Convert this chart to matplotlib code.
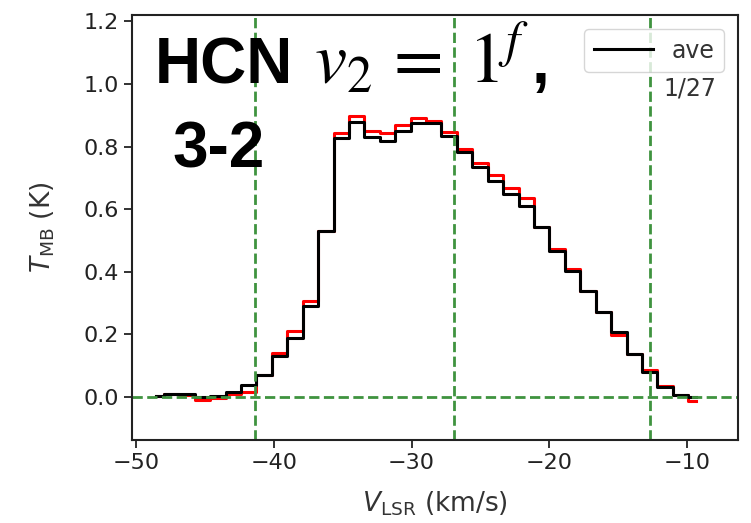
#---------import---------#
import numpy as np
import matplotlib
matplotlib.use('Agg')
import matplotlib.pyplot as plt
#------------------------#


#----------Data----------#
vlsr = [-48.55, -47.43, -46.31, -45.19, -44.07, -42.95, -41.83, -40.71, -39.59,
        -38.47, -37.35, -36.23, -35.11, -33.99, -32.87, -31.75, -30.63, -29.51,
        -28.39, -27.27, -26.15, -25.03, -23.91, -22.79, -21.67, -20.55, -19.43,
        -18.31, -17.19, -16.07, -14.95, -13.83, -12.71, -11.59, -10.47, -9.35]
t_ave = [0.005, 0.01, 0.01, 0.0, 0.005, 0.017, 0.04, 0.07, 0.13, 0.19, 0.29, 0.53,
         0.826, 0.879, 0.832, 0.818, 0.85, 0.874, 0.874, 0.834, 0.783, 0.734,
         0.689, 0.647, 0.61, 0.543, 0.467, 0.403, 0.34, 0.271, 0.207, 0.139,
         0.08, 0.033, 0.006, 0.0]
t_one = [0.005, 0.01, 0.008, -0.008, -0.002, 0.01, 0.015, 0.07, 0.14, 0.21, 0.308,
         0.53, 0.842, 0.898, 0.85, 0.842, 0.869, 0.892, 0.88, 0.845, 0.792, 0.747,
         0.708, 0.668, 0.636, 0.543, 0.473, 0.41, 0.34, 0.271, 0.197, 0.139,
         0.086, 0.036, 0.006, -0.012]
v_marks = [-41.4, -26.9, -12.7]
#------------------------#


#---------Figure---------#
fig = plt.figure(figsize=(7.51, 5.23), dpi=100)
ax = fig.add_axes([0.1758, 0.1587, 0.8069, 0.8126])

ax.step(vlsr, t_one, where='mid', color='red', lw=2.2)
ax.step(vlsr, t_ave, where='mid', color='black', lw=2.2, label='ave')

gcol = '#3f933f'
for v in v_marks:
    ax.axvline(v, color=gcol, ls='--', lw=2.0)
ax.axhline(0.0, color=gcol, ls='--', lw=2.0)

ax.set_xlim(-50.3, -6.3)
ax.set_ylim(-0.137, 1.22)
ax.set_xticks([-50, -40, -30, -20, -10])
ax.set_yticks(np.arange(0, 1.21, 0.2))
ax.tick_params(labelsize=16, length=6, width=1.3, colors='#222222')
for s in ax.spines.values():
    s.set_linewidth(1.5)
    s.set_color('#222222')

ax.set_xlabel(r'$V_{\rm LSR}$ (km/s)', fontsize=19, color='#333333', labelpad=12)
ax.set_ylabel(r'$T_{\rm MB}$ (K)', fontsize=19, color='#333333', labelpad=19)

leg = ax.legend(loc='upper right', fontsize=17, handlelength=2.5,
                borderaxespad=0.6)
for t in leg.get_texts():
    t.set_color('#333333')
ax.text(0.965, 0.826, '1/27', transform=ax.transAxes, ha='right', va='center',
        fontsize=17, color='#333333')

#------Line_label--------#
ax.text(0.038, 0.84, 'HCN', transform=ax.transAxes,
        fontsize=46, fontweight='bold', family='Liberation Sans',
        va='baseline', ha='left')
ax.text(0.300, 0.84, r'$v_2\,=\;1^f$', transform=ax.transAxes,
        fontsize=52, math_fontfamily='stix', va='baseline', ha='left')
ax.text(0.660, 0.84, ',', transform=ax.transAxes,
        fontsize=46, fontweight='bold', family='Liberation Sans',
        va='baseline', ha='left')
ax.text(0.066, 0.642, '3-2', transform=ax.transAxes,
        fontsize=46, fontweight='bold', family='Liberation Sans',
        va='baseline', ha='left')

fig.savefig('out.png', dpi=100)
#------------------------#
